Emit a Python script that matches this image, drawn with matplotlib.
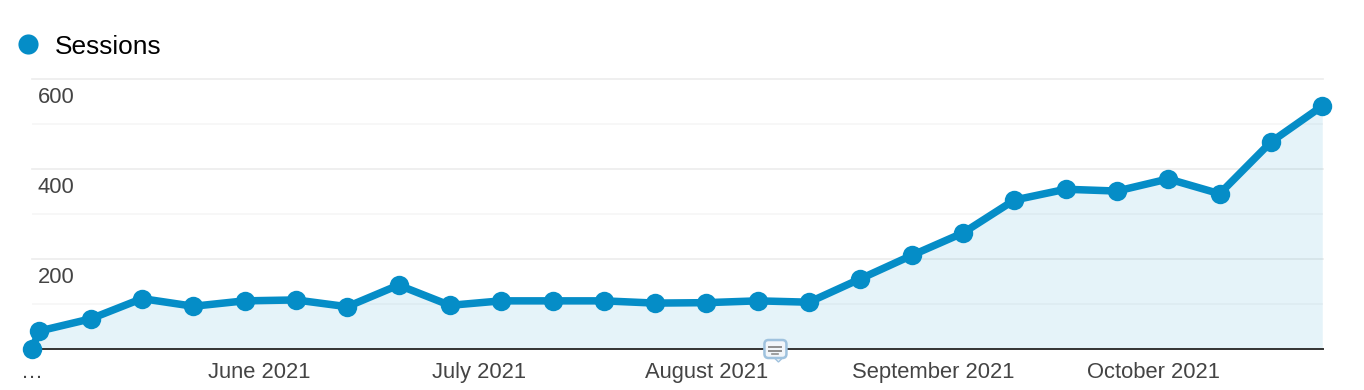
# Weekly sessions chart, analytics style
import numpy as np
import pandas as pd
import matplotlib
matplotlib.use("Agg")
import matplotlib.pyplot as plt
from matplotlib.lines import Line2D
from matplotlib.patches import FancyBboxPatch, Polygon

# ====== DATA ======
first_day = ["2021-05-01"]
week_starts = pd.date_range("2021-05-02", "2021-10-24", freq="7D")
sessions = [0, 40, 67, 112, 95, 107, 109, 94, 142, 97, 107, 107, 107, 102, 103,
            107, 104, 156, 208, 258, 331, 355, 351, 378, 345, 460, 540]
y_major = [200, 400, 600]
y_minor = [100, 300, 500]
month_ticks = ["2021-05-01", "2021-06-01", "2021-07-01", "2021-08-01", "2021-09-01", "2021-10-01"]
month_labels = ["…", "June 2021", "July 2021", "August 2021", "September 2021", "October 2021"]
note_date = "2021-08-10"
# ==================

W, H = 1364, 390
BLUE = "#058dc7"
plt.rcParams['font.family'] = ['Liberation Sans', 'DejaVu Sans']

dates = pd.to_datetime(first_day).append(week_starts)
ticks = pd.to_datetime(month_ticks)

fig = plt.figure(figsize=(W / 100, H / 100), dpi=100)
ax = fig.add_axes([32 / W, 1 - 349 / H, (1323 - 32) / W, 270 / H])

ax.fill_between(dates, sessions, 0, color=BLUE, alpha=0.1, lw=0, zorder=3)
ax.plot(dates, sessions, color=BLUE, lw=5.4, marker='o', ms=14, mew=0,
        clip_on=False, zorder=5, solid_joinstyle='round')

ax.set_xlim(dates[0], dates[-1] + pd.Timedelta(days=0.1))
ax.set_ylim(0, 600)

# gridlines
for v in y_major:
    ax.axhline(v, color="#eeeeee", lw=1.3, zorder=1, clip_on=False)
for v in y_minor:
    ax.axhline(v, color="#f6f6f6", lw=1.2, zorder=1)
ax.axhline(0, color="#333333", lw=1.4, zorder=4, clip_on=False)

for s in ax.spines.values():
    s.set_visible(False)

ax.set_yticks([])
ax.set_xticks(ticks)
ax.set_xticklabels(month_labels, fontsize=15.8, color="#444444")
ax.tick_params(axis='x', length=0, pad=9.5)

# y labels sit inside the plot under each gridline
for v in y_major:
    ax.annotate(str(v), xy=(0, v), xycoords=('axes fraction', 'data'),
                xytext=(4.3, -13), textcoords='offset points',
                fontsize=15.8, color="#444444", ha='left', va='center', zorder=6)

# legend
handle = Line2D([], [], color=BLUE, marker='o', ms=14.5, mew=0, lw=0)
fig.legend([handle], ["Sessions"], loc='center left', bbox_to_anchor=(15 / W, 1 - 46.5 / H),
           frameon=False, fontsize=18.9, labelcolor="#000000", handlelength=1,
           handletextpad=0.53, borderpad=0, borderaxespad=0)

# annotation icon on the axis
nx = ax.transData.transform((matplotlib.dates.date2num(pd.Timestamp(note_date)), 0))[0] + 3
def px(x, y):
    return (x + nx) / W, 1 - y / H
box = FancyBboxPatch(px(-11, 358), 22 / W, 18 / H, transform=fig.transFigure,
                     boxstyle="round,pad=0,rounding_size=0.003", mutation_aspect=W / H,
                     fc="#f2f6fa", ec="#9fc2de", lw=1.8, zorder=7)
fig.add_artist(box)
fig.add_artist(Polygon([px(-1, 358), px(7, 358), px(3, 362)], closed=True, transform=fig.transFigure,
                       fc="#f2f6fa", ec="#9fc2de", lw=1.0, zorder=6.5))
for x0, x1, y, lw in [(-6, 6, 347, 1.4), (-6, 6, 350.5, 1.4), (-3, 3, 353.5, 1.2)]:
    fig.add_artist(Line2D([px(x0, y)[0], px(x1, y)[0]], [px(x0, y)[1], px(x1, y)[1]],
                          transform=fig.transFigure, color="#8f8f8f", lw=lw, zorder=8))

fig.savefig("out.png", dpi=100)
